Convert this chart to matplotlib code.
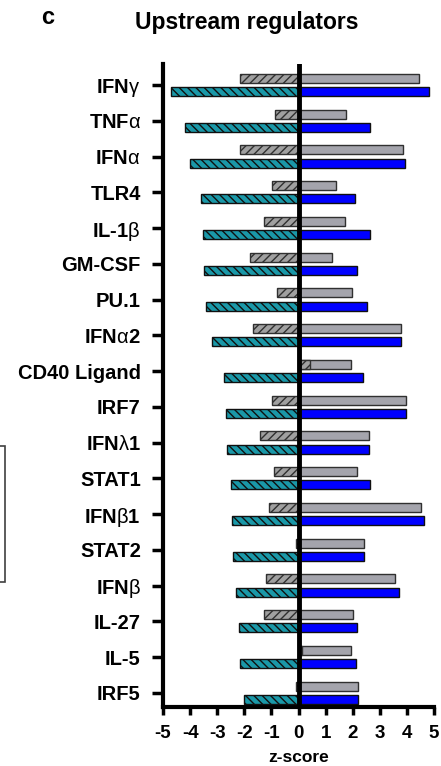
import numpy as np
import matplotlib
matplotlib.use("Agg")
import matplotlib.pyplot as plt
from matplotlib.patches import Rectangle

plt.rcParams['font.family'] = ['Liberation Sans', 'DejaVu Sans']
plt.rcParams['mathtext.fontset'] = 'custom'
plt.rcParams['mathtext.rm'] = 'Liberation Sans'
plt.rcParams['mathtext.default'] = 'regular'
plt.rcParams['axes.unicode_minus'] = False
plt.rcParams['hatch.linewidth'] = 1.0

# Upstream regulators (top to bottom)
regulators = [r"IFN$\mathrm{\gamma}$", r"TNF$\mathrm{\alpha}$", r"IFN$\mathrm{\alpha}$", "TLR4",
              r"IL-1$\mathrm{\beta}$", "GM-CSF", "PU.1", r"IFN$\mathrm{\alpha}$2", "CD40 Ligand",
              "IRF7", r"IFN$\mathrm{\lambda}$1", "STAT1", r"IFN$\mathrm{\beta}$1", "STAT2",
              r"IFN$\mathrm{\beta}$", "IL-27", "IL-5", "IRF5"]

# z-scores, group A (gray) and group B (teal / blue)
a_hatched = [-2.15, -0.86, -2.17, -0.98, -1.28, -1.80, -0.80, -1.69, 0.43, -0.98,
             -1.43, -0.91, -1.10, -0.09, -1.21, -1.28, 0.12, -0.11]
a_solid = [4.46, 1.76, 3.85, 1.39, 1.71, 1.25, 1.97, 3.79, 1.93, 3.97,
           2.59, 2.15, 4.51, 2.41, 3.55, 2.02, 1.93, 2.18]
b_hatched = [-4.71, -4.19, -4.01, -3.60, -3.53, -3.47, -3.42, -3.20, -2.76, -2.68,
             -2.65, -2.50, -2.46, -2.40, -2.31, -2.21, -2.16, -2.02]
b_solid = [4.81, 2.63, 3.94, 2.08, 2.63, 2.16, 2.52, 3.80, 2.39, 3.97,
           2.61, 2.62, 4.62, 2.41, 3.70, 2.16, 2.14, 2.19]

W, H = 441, 766
fig = plt.figure(figsize=(W / 100, H / 100), dpi=100)
ax = fig.add_axes([163 / W, 1 - 706.7 / H, (434 - 163) / W, (706.7 - 64) / H])

y = np.arange(len(regulators))
h = 0.25
off = 0.185

ax.barh(y - off, a_solid, height=h, color='#a4a4ac', edgecolor='#303030', linewidth=1, zorder=2)
ax.barh(y - off, a_hatched, height=h, color='#a0a0a0', edgecolor='#303030', linewidth=1,
        hatch='////', zorder=3)
ax.barh(y + off, b_solid, height=h, color='#0000ff', edgecolor='#101010', linewidth=1, zorder=2)
ax.barh(y + off, b_hatched, height=h, color='#1a98a8', edgecolor='#101010', linewidth=1,
        hatch='\\\\\\\\', zorder=3)

ax.axvline(0, color='black', lw=3.5, zorder=4)

ax.set_xlim(-5, 5)
ax.set_ylim(len(regulators) - 1 + 0.39, -0.59)
ax.set_xticks(np.arange(-5, 6, 1))
ax.set_yticks(y)
ax.set_yticklabels(regulators, fontsize=14.5, fontweight='bold')
for lab in ax.get_xticklabels():
    lab.set_fontweight('bold')
ax.tick_params(axis='x', labelsize=13.5, width=2.5, length=6, pad=7)
ax.tick_params(axis='y', width=2.5, length=8, pad=8)

for s in ['top', 'right']:
    ax.spines[s].set_visible(False)
for s in ['left', 'bottom']:
    ax.spines[s].set_linewidth(3)

# x axis title, placed directly so it stays inside the canvas
fig.text(299 / W, 1 - 757 / H, 'z-score', fontsize=12.5, fontweight='bold',
         ha='center', va='center')

fig.text(47.5 / W, 1 - 18 / H, 'c', fontsize=17, fontweight='bold', ha='center', va='center')
fig.text(246.5 / W, 1 - 23 / H, 'Upstream regulators', fontsize=16.5, fontweight='bold',
         ha='center', va='center')

# legend box, cut off at the left edge of the figure
fig.patches.append(Rectangle((-0.2, 1 - 581.7 / H), 0.2 + 4.5 / W, (581.7 - 446) / H,
                             transform=fig.transFigure, fill=False, edgecolor='#404040',
                             linewidth=1.2))

fig.savefig('out.png', dpi=100)
